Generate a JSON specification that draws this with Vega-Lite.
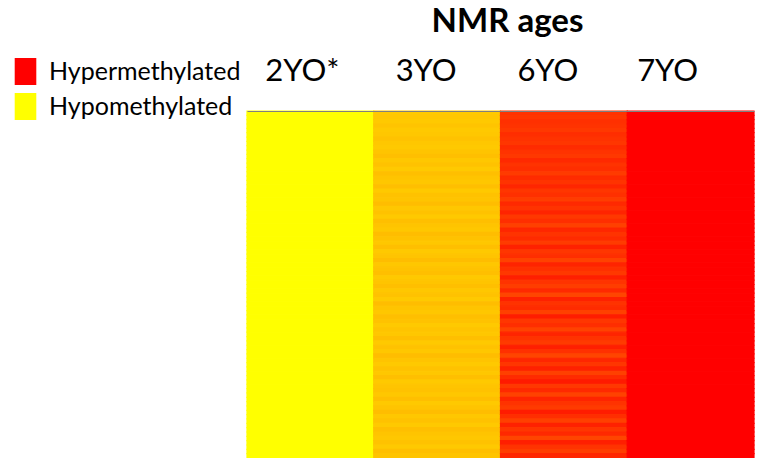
{
  "$schema": "https://vega.github.io/schema/vega-lite/v6.json",
  "autosize": {"type": "none"},
  "padding": {"left": 247, "top": 111, "right": 5, "bottom": 0},
  "width": 507,
  "height": 347,
  "background": "white",
  "config": {
    "view": {"stroke": null},
    "font": "Lato",
    "legend": {
      "orient": "none",
      "legendX": -235,
      "legendY": -53,
      "padding": 0,
      "rowPadding": 8,
      "labelFontSize": 25,
      "labelFont": "Lato",
      "labelColor": "#000000",
      "labelOffset": 10,
      "labelLimit": 400,
      "symbolOpacity": 1,
      "symbolStrokeWidth": 0,
      "symbolSize": 729,
      "symbolType": "M-0.8,-1H0.8V1H-0.8Z",
      "title": null
    }
  },
  "layer": [
    {
      "data": {
        "values": [
          {"age":"2YO*","row":0,"v":0},{"age":"2YO*","row":1,"v":0},{"age":"2YO*","row":2,"v":0},{"age":"2YO*","row":3,"v":0},{"age":"2YO*","row":4,"v":0},{"age":"2YO*","row":5,"v":0},{"age":"2YO*","row":6,"v":0},{"age":"2YO*","row":7,"v":0},{"age":"2YO*","row":8,"v":0},{"age":"2YO*","row":9,"v":0},
          {"age":"2YO*","row":10,"v":0},{"age":"2YO*","row":11,"v":0},{"age":"2YO*","row":12,"v":0},{"age":"2YO*","row":13,"v":0},{"age":"2YO*","row":14,"v":0},{"age":"2YO*","row":15,"v":0},{"age":"2YO*","row":16,"v":0},{"age":"2YO*","row":17,"v":0},{"age":"2YO*","row":18,"v":0},{"age":"2YO*","row":19,"v":0},
          {"age":"2YO*","row":20,"v":0},{"age":"2YO*","row":21,"v":0},{"age":"2YO*","row":22,"v":0},{"age":"2YO*","row":23,"v":0},{"age":"2YO*","row":24,"v":0},{"age":"2YO*","row":25,"v":0},{"age":"2YO*","row":26,"v":0},{"age":"2YO*","row":27,"v":0},{"age":"2YO*","row":28,"v":0},{"age":"2YO*","row":29,"v":0},
          {"age":"2YO*","row":30,"v":0},{"age":"2YO*","row":31,"v":0},{"age":"2YO*","row":32,"v":0},{"age":"2YO*","row":33,"v":0},{"age":"2YO*","row":34,"v":0},{"age":"2YO*","row":35,"v":0},{"age":"2YO*","row":36,"v":0},{"age":"2YO*","row":37,"v":0},{"age":"2YO*","row":38,"v":0},{"age":"2YO*","row":39,"v":0},
          {"age":"2YO*","row":40,"v":0},{"age":"2YO*","row":41,"v":0},{"age":"2YO*","row":42,"v":0},{"age":"2YO*","row":43,"v":0},{"age":"2YO*","row":44,"v":0},{"age":"2YO*","row":45,"v":0},{"age":"2YO*","row":46,"v":0},{"age":"2YO*","row":47,"v":0},{"age":"2YO*","row":48,"v":0},{"age":"2YO*","row":49,"v":0},
          {"age":"2YO*","row":50,"v":0},{"age":"2YO*","row":51,"v":0},{"age":"2YO*","row":52,"v":0},{"age":"2YO*","row":53,"v":0},{"age":"2YO*","row":54,"v":0},{"age":"2YO*","row":55,"v":0},{"age":"2YO*","row":56,"v":0},{"age":"2YO*","row":57,"v":0},{"age":"2YO*","row":58,"v":0},{"age":"2YO*","row":59,"v":0},
          {"age":"2YO*","row":60,"v":0},{"age":"2YO*","row":61,"v":0},{"age":"2YO*","row":62,"v":0},{"age":"2YO*","row":63,"v":0},{"age":"2YO*","row":64,"v":0},{"age":"2YO*","row":65,"v":0},{"age":"2YO*","row":66,"v":0},{"age":"2YO*","row":67,"v":0},{"age":"2YO*","row":68,"v":0},{"age":"2YO*","row":69,"v":0},
          {"age":"2YO*","row":70,"v":0},{"age":"2YO*","row":71,"v":0},{"age":"2YO*","row":72,"v":0},{"age":"2YO*","row":73,"v":0},{"age":"2YO*","row":74,"v":0},{"age":"2YO*","row":75,"v":0},{"age":"2YO*","row":76,"v":0},{"age":"2YO*","row":77,"v":0},{"age":"2YO*","row":78,"v":0},{"age":"2YO*","row":79,"v":0},

          {"age":"3YO","row":0,"v":0.21},{"age":"3YO","row":1,"v":0.22},{"age":"3YO","row":2,"v":0.21},{"age":"3YO","row":3,"v":0.23},{"age":"3YO","row":4,"v":0.21},{"age":"3YO","row":5,"v":0.22},{"age":"3YO","row":6,"v":0.24},{"age":"3YO","row":7,"v":0.22},{"age":"3YO","row":8,"v":0.21},{"age":"3YO","row":9,"v":0.23},
          {"age":"3YO","row":10,"v":0.25},{"age":"3YO","row":11,"v":0.22},{"age":"3YO","row":12,"v":0.24},{"age":"3YO","row":13,"v":0.21},{"age":"3YO","row":14,"v":0.25},{"age":"3YO","row":15,"v":0.23},{"age":"3YO","row":16,"v":0.22},{"age":"3YO","row":17,"v":0.25},{"age":"3YO","row":18,"v":0.21},{"age":"3YO","row":19,"v":0.24},
          {"age":"3YO","row":20,"v":0.23},{"age":"3YO","row":21,"v":0.26},{"age":"3YO","row":22,"v":0.22},{"age":"3YO","row":23,"v":0.24},{"age":"3YO","row":24,"v":0.21},{"age":"3YO","row":25,"v":0.25},{"age":"3YO","row":26,"v":0.23},{"age":"3YO","row":27,"v":0.22},{"age":"3YO","row":28,"v":0.26},{"age":"3YO","row":29,"v":0.24},
          {"age":"3YO","row":30,"v":0.22},{"age":"3YO","row":31,"v":0.25},{"age":"3YO","row":32,"v":0.21},{"age":"3YO","row":33,"v":0.23},{"age":"3YO","row":34,"v":0.26},{"age":"3YO","row":35,"v":0.22},{"age":"3YO","row":36,"v":0.24},{"age":"3YO","row":37,"v":0.25},{"age":"3YO","row":38,"v":0.21},{"age":"3YO","row":39,"v":0.23},
          {"age":"3YO","row":40,"v":0.25},{"age":"3YO","row":41,"v":0.22},{"age":"3YO","row":42,"v":0.24},{"age":"3YO","row":43,"v":0.21},{"age":"3YO","row":44,"v":0.26},{"age":"3YO","row":45,"v":0.23},{"age":"3YO","row":46,"v":0.22},{"age":"3YO","row":47,"v":0.25},{"age":"3YO","row":48,"v":0.24},{"age":"3YO","row":49,"v":0.21},
          {"age":"3YO","row":50,"v":0.23},{"age":"3YO","row":51,"v":0.22},{"age":"3YO","row":52,"v":0.25},{"age":"3YO","row":53,"v":0.21},{"age":"3YO","row":54,"v":0.24},{"age":"3YO","row":55,"v":0.22},{"age":"3YO","row":56,"v":0.26},{"age":"3YO","row":57,"v":0.23},{"age":"3YO","row":58,"v":0.21},{"age":"3YO","row":59,"v":0.24},
          {"age":"3YO","row":60,"v":0.22},{"age":"3YO","row":61,"v":0.25},{"age":"3YO","row":62,"v":0.21},{"age":"3YO","row":63,"v":0.23},{"age":"3YO","row":64,"v":0.24},{"age":"3YO","row":65,"v":0.22},{"age":"3YO","row":66,"v":0.25},{"age":"3YO","row":67,"v":0.21},{"age":"3YO","row":68,"v":0.23},{"age":"3YO","row":69,"v":0.26},
          {"age":"3YO","row":70,"v":0.22},{"age":"3YO","row":71,"v":0.24},{"age":"3YO","row":72,"v":0.21},{"age":"3YO","row":73,"v":0.25},{"age":"3YO","row":74,"v":0.23},{"age":"3YO","row":75,"v":0.22},{"age":"3YO","row":76,"v":0.24},{"age":"3YO","row":77,"v":0.21},{"age":"3YO","row":78,"v":0.25},{"age":"3YO","row":79,"v":0.23},

          {"age":"6YO","row":0,"v":0.80},{"age":"6YO","row":1,"v":0.79},{"age":"6YO","row":2,"v":0.81},{"age":"6YO","row":3,"v":0.80},{"age":"6YO","row":4,"v":0.78},{"age":"6YO","row":5,"v":0.82},{"age":"6YO","row":6,"v":0.80},{"age":"6YO","row":7,"v":0.79},{"age":"6YO","row":8,"v":0.83},{"age":"6YO","row":9,"v":0.80},
          {"age":"6YO","row":10,"v":0.78},{"age":"6YO","row":11,"v":0.84},{"age":"6YO","row":12,"v":0.80},{"age":"6YO","row":13,"v":0.82},{"age":"6YO","row":14,"v":0.77},{"age":"6YO","row":15,"v":0.83},{"age":"6YO","row":16,"v":0.80},{"age":"6YO","row":17,"v":0.85},{"age":"6YO","row":18,"v":0.79},{"age":"6YO","row":19,"v":0.81},
          {"age":"6YO","row":20,"v":0.76},{"age":"6YO","row":21,"v":0.84},{"age":"6YO","row":22,"v":0.80},{"age":"6YO","row":23,"v":0.86},{"age":"6YO","row":24,"v":0.78},{"age":"6YO","row":25,"v":0.82},{"age":"6YO","row":26,"v":0.75},{"age":"6YO","row":27,"v":0.85},{"age":"6YO","row":28,"v":0.80},{"age":"6YO","row":29,"v":0.83},
          {"age":"6YO","row":30,"v":0.77},{"age":"6YO","row":31,"v":0.87},{"age":"6YO","row":32,"v":0.79},{"age":"6YO","row":33,"v":0.82},{"age":"6YO","row":34,"v":0.74},{"age":"6YO","row":35,"v":0.86},{"age":"6YO","row":36,"v":0.81},{"age":"6YO","row":37,"v":0.78},{"age":"6YO","row":38,"v":0.88},{"age":"6YO","row":39,"v":0.80},
          {"age":"6YO","row":40,"v":0.76},{"age":"6YO","row":41,"v":0.84},{"age":"6YO","row":42,"v":0.73},{"age":"6YO","row":43,"v":0.87},{"age":"6YO","row":44,"v":0.80},{"age":"6YO","row":45,"v":0.83},{"age":"6YO","row":46,"v":0.75},{"age":"6YO","row":47,"v":0.89},{"age":"6YO","row":48,"v":0.79},{"age":"6YO","row":49,"v":0.82},
          {"age":"6YO","row":50,"v":0.74},{"age":"6YO","row":51,"v":0.86},{"age":"6YO","row":52,"v":0.80},{"age":"6YO","row":53,"v":0.77},{"age":"6YO","row":54,"v":0.88},{"age":"6YO","row":55,"v":0.81},{"age":"6YO","row":56,"v":0.73},{"age":"6YO","row":57,"v":0.85},{"age":"6YO","row":58,"v":0.79},{"age":"6YO","row":59,"v":0.87},
          {"age":"6YO","row":60,"v":0.75},{"age":"6YO","row":61,"v":0.83},{"age":"6YO","row":62,"v":0.90},{"age":"6YO","row":63,"v":0.78},{"age":"6YO","row":64,"v":0.84},{"age":"6YO","row":65,"v":0.74},{"age":"6YO","row":66,"v":0.86},{"age":"6YO","row":67,"v":0.80},{"age":"6YO","row":68,"v":0.77},{"age":"6YO","row":69,"v":0.89},
          {"age":"6YO","row":70,"v":0.82},{"age":"6YO","row":71,"v":0.75},{"age":"6YO","row":72,"v":0.87},{"age":"6YO","row":73,"v":0.79},{"age":"6YO","row":74,"v":0.84},{"age":"6YO","row":75,"v":0.73},{"age":"6YO","row":76,"v":0.88},{"age":"6YO","row":77,"v":0.80},{"age":"6YO","row":78,"v":0.76},{"age":"6YO","row":79,"v":0.85},

          {"age":"7YO","row":0,"v":1},{"age":"7YO","row":1,"v":1},{"age":"7YO","row":2,"v":1},{"age":"7YO","row":3,"v":1},{"age":"7YO","row":4,"v":1},{"age":"7YO","row":5,"v":1},{"age":"7YO","row":6,"v":1},{"age":"7YO","row":7,"v":1},{"age":"7YO","row":8,"v":1},{"age":"7YO","row":9,"v":1},
          {"age":"7YO","row":10,"v":1},{"age":"7YO","row":11,"v":1},{"age":"7YO","row":12,"v":1},{"age":"7YO","row":13,"v":1},{"age":"7YO","row":14,"v":1},{"age":"7YO","row":15,"v":1},{"age":"7YO","row":16,"v":1},{"age":"7YO","row":17,"v":1},{"age":"7YO","row":18,"v":1},{"age":"7YO","row":19,"v":1},
          {"age":"7YO","row":20,"v":1},{"age":"7YO","row":21,"v":1},{"age":"7YO","row":22,"v":1},{"age":"7YO","row":23,"v":1},{"age":"7YO","row":24,"v":1},{"age":"7YO","row":25,"v":1},{"age":"7YO","row":26,"v":1},{"age":"7YO","row":27,"v":1},{"age":"7YO","row":28,"v":1},{"age":"7YO","row":29,"v":1},
          {"age":"7YO","row":30,"v":1},{"age":"7YO","row":31,"v":1},{"age":"7YO","row":32,"v":1},{"age":"7YO","row":33,"v":1},{"age":"7YO","row":34,"v":1},{"age":"7YO","row":35,"v":1},{"age":"7YO","row":36,"v":1},{"age":"7YO","row":37,"v":1},{"age":"7YO","row":38,"v":1},{"age":"7YO","row":39,"v":1},
          {"age":"7YO","row":40,"v":1},{"age":"7YO","row":41,"v":1},{"age":"7YO","row":42,"v":1},{"age":"7YO","row":43,"v":1},{"age":"7YO","row":44,"v":1},{"age":"7YO","row":45,"v":1},{"age":"7YO","row":46,"v":1},{"age":"7YO","row":47,"v":1},{"age":"7YO","row":48,"v":1},{"age":"7YO","row":49,"v":1},
          {"age":"7YO","row":50,"v":1},{"age":"7YO","row":51,"v":1},{"age":"7YO","row":52,"v":1},{"age":"7YO","row":53,"v":1},{"age":"7YO","row":54,"v":1},{"age":"7YO","row":55,"v":1},{"age":"7YO","row":56,"v":1},{"age":"7YO","row":57,"v":1},{"age":"7YO","row":58,"v":1},{"age":"7YO","row":59,"v":1},
          {"age":"7YO","row":60,"v":1},{"age":"7YO","row":61,"v":1},{"age":"7YO","row":62,"v":1},{"age":"7YO","row":63,"v":1},{"age":"7YO","row":64,"v":1},{"age":"7YO","row":65,"v":1},{"age":"7YO","row":66,"v":1},{"age":"7YO","row":67,"v":1},{"age":"7YO","row":68,"v":1},{"age":"7YO","row":69,"v":1},
          {"age":"7YO","row":70,"v":1},{"age":"7YO","row":71,"v":1},{"age":"7YO","row":72,"v":1},{"age":"7YO","row":73,"v":1},{"age":"7YO","row":74,"v":1},{"age":"7YO","row":75,"v":1},{"age":"7YO","row":76,"v":1},{"age":"7YO","row":77,"v":1},{"age":"7YO","row":78,"v":1},{"age":"7YO","row":79,"v":1}
        ]
      },
      "mark": {"type": "rect", "strokeWidth": 1.2},
      "encoding": {
        "x": {
          "field": "age",
          "type": "nominal",
          "sort": ["2YO*", "3YO", "6YO", "7YO"],
          "scale": {"paddingInner": 0, "paddingOuter": 0},
          "axis": {
            "orient": "top",
            "title": "NMR ages",
            "titleFont": "Lato",
            "titleFontSize": 33,
            "titleFontWeight": "bold",
            "titleColor": "#000000",
            "titlePadding": 17,
            "titleX": 260,
            "titleAlign": "center",
            "labelFont": "Lato",
            "labelFontSize": 31,
            "labelColor": "#000000",
            "labelAngle": 0,
            "labelPadding": 24,
            "labelOffset": {
              "condition": [
                {"test": "datum.value == '7YO'", "value": -23},
                {"test": "datum.value == '6YO'", "value": -16},
                {"test": "datum.value == '3YO'", "value": -11}
              ],
              "value": -8
            },
            "ticks": false,
            "domain": true,
            "domainColor": "#7f7f7f",
            "domainWidth": 1
          }
        },
        "y": {
          "field": "row",
          "type": "ordinal",
          "scale": {"paddingInner": 0, "paddingOuter": 0},
          "axis": null
        },
        "color": {
          "field": "v",
          "type": "quantitative",
          "scale": {"domain": [0, 1], "range": ["#ffff00", "#ff0000"], "interpolate": "rgb"},
          "legend": null
        },
        "stroke": {
          "field": "v",
          "type": "quantitative",
          "scale": {"domain": [0, 1], "range": ["#ffff00", "#ff0000"], "interpolate": "rgb"},
          "legend": null
        }
      }
    },
    {
      "data": {
        "values": [
          {"status": "Hypermethylated"},
          {"status": "Hypomethylated"}
        ]
      },
      "mark": {"type": "square", "opacity": 0, "size": 729},
      "encoding": {
        "color": {
          "field": "status",
          "type": "nominal",
          "scale": {"domain": ["Hypermethylated", "Hypomethylated"], "range": ["#ff0000", "#ffff00"]},
          "legend": {"title": null}
        }
      }
    }
  ],
  "resolve": {"scale": {"color": "independent"}}
}
